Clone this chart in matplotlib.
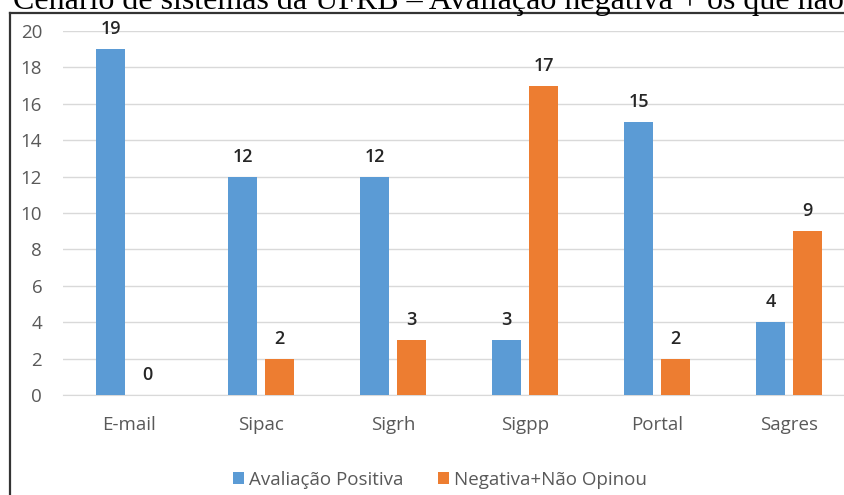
import numpy as np
import matplotlib.pyplot as plt

categorias = ["E-mail", "Sipac", "Sigrh", "Sigpp", "Portal", "Sagres"]
positiva = [19, 12, 12, 3, 15, 4]
negativa = [0, 2, 3, 17, 2, 9]
serie_nomes = ["Avaliação Positiva", "Negativa+Não Opinou"]
titulo = "Cenário de sistemas da UFRB – Avaliação negativa + os que não"

azul = "#5B9BD5"
laranja = "#ED7D31"
W, H = 845, 495

fig = plt.figure(figsize=(W / 100, H / 100), dpi=100)
fig.patch.set_facecolor("white")

# title, cut at the top like the screenshot
fig.text(13 / W, 1 - 9 / H, titulo, family="Liberation Serif", fontsize=23,
         color="black", ha="left", va="baseline")

# chart frame (only left and top edges visible)
fig.add_artist(plt.Line2D([10 / W, 10 / W], [0, 1 - 12.5 / H], transform=fig.transFigure,
                          color="#333333", lw=1.6))
fig.add_artist(plt.Line2D([10 / W, 1], [1 - 12.5 / H, 1 - 12.5 / H], transform=fig.transFigure,
                          color="#333333", lw=1.6))

left, right = 63, 855
bottom, top = 395, 31
ax = fig.add_axes([left / W, 1 - bottom / H, (right - left) / W, (bottom - top) / H])
ax.set_facecolor("none")

x = np.arange(len(categorias))
w = 0.22
off = 0.14
b1 = ax.bar(x - off, positiva, w, color=azul, label=serie_nomes[0], zorder=3)
b2 = ax.bar(x + off, negativa, w, color=laranja, label=serie_nomes[1], zorder=3)

for bars, vals in ((b1, positiva), (b2, negativa)):
    for r, v in zip(bars, vals):
        ax.text(r.get_x() + r.get_width() / 2, v + 0.6, str(v), ha="center", va="bottom",
                family="Open Sans", fontsize=13, color="#262626", fontweight="semibold")

ax.set_xlim(-0.5, len(categorias) - 0.5)
ax.set_ylim(0, 20)
ax.set_yticks(range(0, 21, 2))
ax.yaxis.grid(True, color="#D9D9D9", lw=1, zorder=0)
ax.set_xticks(x)
ax.set_xticklabels(categorias)
for s in ax.spines.values():
    s.set_visible(False)
ax.spines["bottom"].set_visible(True)
ax.spines["bottom"].set_color("#D9D9D9")
ax.tick_params(length=0, labelsize=13.5, labelcolor="#595959")
ax.tick_params(axis="x", pad=15)
ax.tick_params(axis="y", pad=15)
for t in ax.get_xticklabels() + ax.get_yticklabels():
    t.set_family("Open Sans")

fig.legend(loc="center", bbox_to_anchor=(440 / W, 1 - 480 / H), ncol=2, frameon=False,
           prop={"family": "Open Sans", "size": 13.5}, labelcolor="#595959",
           handlelength=0.6, handleheight=0.6, handletextpad=0.3, columnspacing=1.8)

fig.savefig("out.png", dpi=100, facecolor="white")
